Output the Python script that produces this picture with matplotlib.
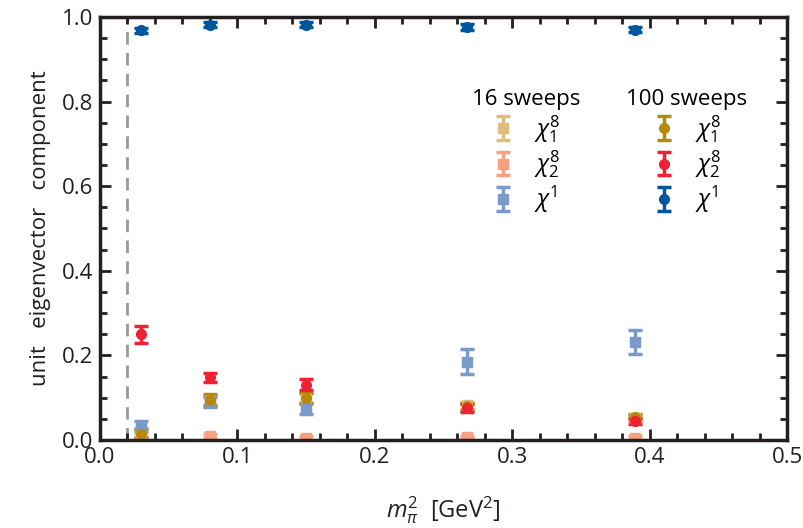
import matplotlib
matplotlib.use("Agg")
import matplotlib.pyplot as plt
from matplotlib.ticker import MultipleLocator

plt.rcParams['font.family'] = ['Open Sans', 'DejaVu Sans']
plt.rcParams['mathtext.fontset'] = 'custom'
plt.rcParams['mathtext.it'] = 'Open Sans:italic'
plt.rcParams['mathtext.rm'] = 'Open Sans'

# pion mass squared [GeV^2]
mpi2 = [0.030, 0.080, 0.150, 0.267, 0.389]
mpi2_phys = 0.0195

# 16 sweeps
c18_16 = [0.018, 0.092, 0.098, 0.082, 0.052]
c18_16_err = [0.010, 0.012, 0.012, 0.008, 0.006]
c28_16 = [0.004, 0.010, 0.005, 0.006, 0.005]
c28_16_err = [0.004, 0.005, 0.004, 0.004, 0.004]
c1_16 = [0.032, 0.090, 0.075, 0.185, 0.232]
c1_16_err = [0.013, 0.012, 0.013, 0.030, 0.028]

# 100 sweeps
c18_100 = [0.015, 0.095, 0.100, 0.080, 0.055]
c18_100_err = [0.010, 0.013, 0.012, 0.008, 0.006]
c28_100 = [0.250, 0.148, 0.130, 0.075, 0.045]
c28_100_err = [0.020, 0.010, 0.013, 0.009, 0.007]
c1_100 = [0.968, 0.982, 0.982, 0.977, 0.970]
c1_100_err = [0.006, 0.005, 0.005, 0.007, 0.006]

fig = plt.figure(figsize=(8.04, 5.28), dpi=100)
ax = fig.add_axes([0.1244, 0.1667, 0.8545, 0.8013])

ax.axvline(mpi2_phys, color='#999999', lw=2, ls=(0, (4.5, 3)), zorder=1)

kw = dict(ls='none', capsize=5, elinewidth=2.5, capthick=2.5, ms=7)
h16 = []
h16.append(ax.errorbar(mpi2, c18_16, yerr=c18_16_err, fmt='s', color='#dcbf7e', **kw))
h16.append(ax.errorbar(mpi2, c28_16, yerr=c28_16_err, fmt='s', color='#f6a07f', **kw))
h16.append(ax.errorbar(mpi2, c1_16, yerr=c1_16_err, fmt='s', color='#7a9bc9', **kw))
h100 = []
h100.append(ax.errorbar(mpi2, c18_100, yerr=c18_100_err, fmt='o', color='#b5890a', **kw))
h100.append(ax.errorbar(mpi2, c28_100, yerr=c28_100_err, fmt='o', color='#ee2230', **kw))
h100.append(ax.errorbar(mpi2, c1_100, yerr=c1_100_err, fmt='o', color='#00569c', **kw))

labels = [r'$\chi_1^8$', r'$\chi_2^8$', r'$\chi^1$']
leg1 = ax.legend(h16, labels, title='16 sweeps', loc='upper left',
                 bbox_to_anchor=(0.51, 0.88), frameon=False, fontsize=17,
                 title_fontsize=16, handlelength=1.0, labelspacing=0.15)
ax.add_artist(leg1)
ax.legend(h100, labels, title='100 sweeps', loc='upper left',
          bbox_to_anchor=(0.735, 0.88), frameon=False, fontsize=17,
          title_fontsize=16, handlelength=1.0, labelspacing=0.15)

ax.set_xlim(0, 0.5)
ax.set_ylim(0, 1.0)
ax.xaxis.set_major_locator(MultipleLocator(0.1))
ax.xaxis.set_minor_locator(MultipleLocator(0.02))
ax.yaxis.set_major_locator(MultipleLocator(0.2))
ax.yaxis.set_minor_locator(MultipleLocator(0.05))
ax.tick_params(which='both', direction='in', top=True, right=True, width=2,
               labelsize=16, color='#231f20', labelcolor='#231f20')
ax.tick_params(which='major', length=8, pad=5)
ax.tick_params(which='minor', length=5)
for s in ax.spines.values():
    s.set_linewidth(2.5)
    s.set_color('#231f20')

ax.set_xlabel(r'$m_\pi^2$  [GeV$^2$]', fontsize=17, labelpad=19, color='#231f20')
ax.set_ylabel('unit   eigenvector   component', fontsize=16, labelpad=8, color='#231f20')

fig.savefig('out.png', dpi=100)
